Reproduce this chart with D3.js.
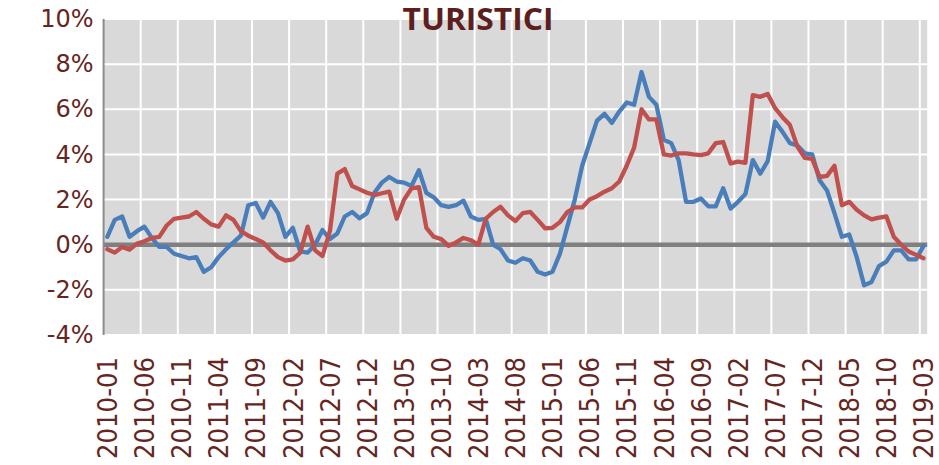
<!DOCTYPE html>
<html><head><meta charset="utf-8">
<script src="https://cdn.jsdelivr.net/npm/d3@7/dist/d3.min.js"></script>
<style>body{margin:0;background:#fff}svg{display:block}</style>
</head><body>
<svg id="c" width="939" height="465"></svg>
<script>
// ---- data ----
const startYear = 2010, startMonth = 1, monthCount = 111;
const categories = d3.range(monthCount).map(i => {
  const m = startMonth - 1 + i;
  return (startYear + Math.floor(m / 12)) + "-" + String(m % 12 + 1).padStart(2, "0");
});
const tickLabels = ["2010-01","2010-06","2010-11","2011-04","2011-09","2012-02","2012-07","2012-12",
  "2013-05","2013-10","2014-03","2014-08","2015-01","2015-06","2015-11","2016-04","2016-09",
  "2017-02","2017-07","2017-12","2018-05","2018-10","2019-03"];
const yTicks = [-4,-2,0,2,4,6,8,10];
const blueSeries = [
  0.35,1.1,1.25,0.35,0.6,0.8,0.3,-0.1,-0.1,-0.4,
  -0.5,-0.6,-0.55,-1.2,-1.0,-0.55,-0.2,0.1,0.4,1.75,
  1.85,1.2,1.9,1.4,0.35,0.75,-0.3,-0.35,0.0,0.65,
  0.25,0.5,1.25,1.45,1.17,1.4,2.3,2.75,3.0,2.8,
  2.75,2.6,3.3,2.3,2.1,1.75,1.68,1.75,1.95,1.25,
  1.1,1.15,0.0,-0.2,-0.7,-0.8,-0.6,-0.7,-1.2,-1.32,
  -1.2,-0.4,0.8,2.0,3.5,4.5,5.5,5.8,5.4,5.9,
  6.3,6.2,7.65,6.55,6.2,4.65,4.5,3.75,1.9,1.9,
  2.05,1.7,1.7,2.5,1.6,1.9,2.25,3.75,3.15,3.7,
  5.45,5.0,4.5,4.4,4.05,4.0,2.85,2.4,1.4,0.35,
  0.45,-0.55,-1.8,-1.65,-0.95,-0.75,-0.25,-0.25,-0.65,-0.65,
  -0.05
];
const redSeries = [
  -0.2,-0.35,-0.1,-0.22,0.05,0.15,0.3,0.35,0.85,1.15,
  1.2,1.25,1.45,1.15,0.9,0.8,1.3,1.1,0.6,0.4,
  0.25,0.1,-0.25,-0.55,-0.7,-0.65,-0.35,0.8,-0.25,-0.5,
  0.6,3.15,3.35,2.6,2.45,2.3,2.2,2.28,2.35,1.15,
  2.0,2.5,2.55,0.75,0.35,0.25,-0.05,0.1,0.3,0.2,
  0.0,1.15,1.45,1.68,1.3,1.05,1.4,1.45,1.1,0.73,
  0.75,1.0,1.45,1.65,1.65,2.0,2.15,2.35,2.5,2.8,
  3.5,4.3,6.0,5.55,5.55,4.0,3.95,4.05,4.05,4.0,
  3.97,4.05,4.5,4.55,3.6,3.68,3.63,6.63,6.55,6.68,
  6.05,5.65,5.3,4.35,3.85,3.8,3.0,3.05,3.5,1.75,
  1.9,1.55,1.3,1.12,1.2,1.25,0.35,0.0,-0.3,-0.45,
  -0.6
];
const title = "TURISTICI";

// ---- layout ----
const L = 103.6, R = 927.2, T = 19, B = 335;
const svg = d3.select("#c");
const x = d3.scaleBand().domain(categories).range([L, R]).paddingInner(0).paddingOuter(0);
const y = d3.scaleLinear().domain([-4, 10]).range([B, T]);
const cx = c => x(c) + x.bandwidth() / 2;
const labelColor = "#672522";

svg.append("rect").attr("x", L).attr("y", T).attr("width", R - L).attr("height", B - T).attr("fill", "#d9d9d9");

// horizontal gridlines
svg.append("g").selectAll("line").data(yTicks).join("line")
  .attr("x1", L).attr("x2", R).attr("y1", d => y(d)).attr("y2", d => y(d))
  .attr("stroke", "#fff").attr("stroke-width", 2);
// vertical gridlines at every 5th category boundary
const vIdx = d3.range(5, monthCount + 1, 5);
svg.append("g").selectAll("line").data(vIdx).join("line")
  .attr("x1", i => L + i * x.step()).attr("x2", i => L + i * x.step())
  .attr("y1", T).attr("y2", B)
  .attr("stroke", "#fff").attr("stroke-width", 2);

// zero line
svg.append("line").attr("x1", L).attr("x2", R).attr("y1", y(0)).attr("y2", y(0))
  .attr("stroke", "#808080").attr("stroke-width", 4.5);
// left axis line
svg.append("line").attr("x1", L).attr("x2", L).attr("y1", T).attr("y2", B)
  .attr("stroke", "#8c8c8c").attr("stroke-width", 2);

// y axis labels
const yAxis = d3.axisLeft(y).tickValues(yTicks).tickFormat(d => d + "%").tickSize(0).tickPadding(10);
const gy = svg.append("g").attr("transform", `translate(${L},0)`).call(yAxis);
gy.select(".domain").remove();
gy.selectAll("text").attr("fill", labelColor).style("font-family", "DejaVu Sans").style("font-size", "24px");

// x axis labels
const xAxis = d3.axisBottom(x).tickValues(tickLabels).tickSize(0);
const gx = svg.append("g").attr("transform", `translate(0,${B})`).call(xAxis);
gx.select(".domain").remove();
gx.selectAll("text")
  .attr("transform", "rotate(-90)")
  .attr("text-anchor", "end")
  .attr("x", -22).attr("y", 0).attr("dy", "0.36em")
  .attr("textLength", 102).attr("lengthAdjust", "spacingAndGlyphs")
  .attr("fill", labelColor)
  .style("font-family", "DejaVu Sans").style("font-size", "27px");

// series lines
const line = d3.line().x((d, i) => cx(categories[i])).y(d => y(d));
[[blueSeries, "#4a7ebb"], [redSeries, "#c0504d"]].forEach(([s, col]) => {
  svg.append("path").datum(s).attr("d", line)
    .attr("fill", "none").attr("stroke", col).attr("stroke-width", 4.3)
    .attr("stroke-linejoin", "round").attr("stroke-linecap", "round");
});

// title
svg.append("text").attr("x", 478).attr("y", 30).attr("text-anchor", "middle")
  .attr("textLength", 151).attr("lengthAdjust", "spacingAndGlyphs")
  .attr("fill", "#5c1f1e").style("font-family", "Open Sans").style("font-weight", "bold")
  .style("font-size", "31px").text(title);
</script>
</body></html>
